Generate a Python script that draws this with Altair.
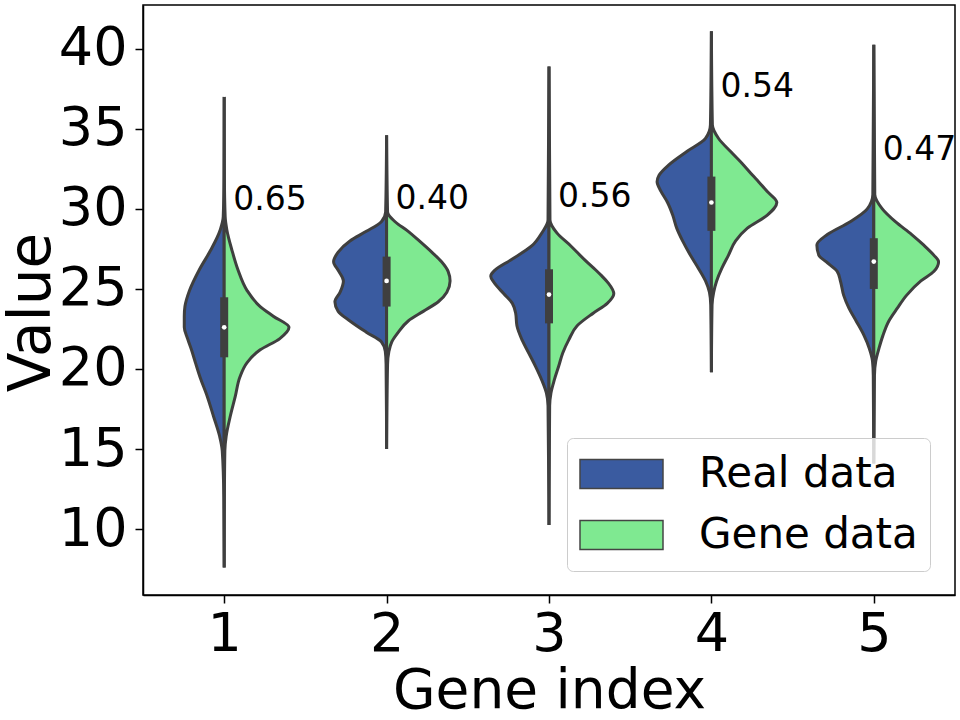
import altair as alt
import pandas as pd

# ---------------- data ----------------
GENES = [1, 2, 3, 4, 5]
SIDES = ["Real data", "Gene data"]
COLORS = ["#3a5ba0", "#7fe991"]

# violin profiles: value levels and relative half-widths (1 = widest half)
LEVELS_1 = [37.0, 32.0, 29.5, 28.7, 27.4, 26.2, 24.9, 23.9, 23.3, 22.6, 21.9, 21.2, 20.4, 19.5, 18.3, 17.0, 15.8, 14.9, 12.0, 7.6]
REAL_1 = [0, 0.003, 0.015, 0.06, 0.21, 0.38, 0.53, 0.60, 0.61, 0.61, 0.56, 0.50, 0.44, 0.37, 0.26, 0.16, 0.07, 0.03, 0.006, 0]
GENE_1 = [0, 0.003, 0.015, 0.04, 0.12, 0.21, 0.35, 0.55, 0.75, 0.99, 0.85, 0.55, 0.35, 0.24, 0.17, 0.09, 0.03, 0.01, 0.003, 0]

LEVELS_2 = [34.6, 29.8, 29.2, 28.6, 28.0, 27.3, 26.7, 26.1, 25.5, 24.8, 24.2, 23.6, 23.0, 22.3, 21.7, 21.1, 20.3, 15.0]
REAL_2 = [0, 0.015, 0.08, 0.31, 0.56, 0.74, 0.81, 0.73, 0.66, 0.71, 0.79, 0.74, 0.56, 0.31, 0.08, 0.02, 0.008, 0]
GENE_2 = [0, 0.015, 0.13, 0.33, 0.50, 0.69, 0.84, 0.94, 0.97, 0.92, 0.79, 0.56, 0.33, 0.18, 0.08, 0.035, 0.015, 0]

LEVELS_3 = [38.9, 29.3, 28.5, 27.7, 26.8, 26.2, 25.8, 25.4, 24.7, 24.1, 23.5, 22.7, 21.8, 21.0, 20.2, 19.3, 18.5, 17.7, 10.25]
REAL_3 = [0, 0.015, 0.11, 0.26, 0.59, 0.82, 0.89, 0.84, 0.69, 0.56, 0.51, 0.49, 0.41, 0.31, 0.21, 0.11, 0.04, 0.015, 0]
GENE_3 = [0, 0.015, 0.12, 0.33, 0.55, 0.71, 0.81, 0.90, 0.99, 0.89, 0.68, 0.43, 0.30, 0.21, 0.15, 0.08, 0.03, 0.01, 0]

LEVELS_4 = [41.1, 35.25, 34.4, 33.6, 32.75, 32.1, 31.7, 31.1, 30.4, 29.6, 28.8, 28.0, 27.1, 26.3, 25.5, 24.8, 24.0, 19.8]
REAL_4 = [0, 0.015, 0.09, 0.37, 0.65, 0.80, 0.83, 0.77, 0.67, 0.59, 0.53, 0.44, 0.32, 0.20, 0.09, 0.03, 0.01, 0]
GENE_4 = [0, 0.015, 0.11, 0.29, 0.49, 0.63, 0.72, 0.85, 1.0, 0.85, 0.55, 0.37, 0.26, 0.16, 0.08, 0.035, 0.01, 0]

LEVELS_5 = [40.25, 30.9, 30.0, 29.2, 28.4, 27.75, 27.1, 26.7, 26.1, 25.5, 24.6, 23.8, 23.0, 22.1, 21.3, 20.5, 19.6, 14.1]
REAL_5 = [0, 0.015, 0.10, 0.36, 0.71, 0.87, 0.84, 0.73, 0.56, 0.51, 0.46, 0.38, 0.27, 0.15, 0.07, 0.02, 0.008, 0]
GENE_5 = [0, 0.015, 0.13, 0.33, 0.58, 0.76, 0.92, 0.99, 0.92, 0.72, 0.50, 0.36, 0.23, 0.14, 0.08, 0.03, 0.01, 0]

# inner box statistics of the real data
Q1 = [20.73, 23.9, 22.85, 28.63, 25.0]
Q3 = [24.48, 27.02, 26.23, 32.02, 28.17]
MEDIAN = [22.6, 25.5, 24.65, 30.4, 26.71]

# annotation scores
SCORE_TEXT = ["0.65", "0.40", "0.56", "0.54", "0.47"]
SCORE_Y = [30.56, 30.6, 30.75, 37.6, 33.7]

# ---------------- build tables ----------------
HALF = 0.403  # widest half-violin, in category units
profiles = {
    1: (LEVELS_1, REAL_1, GENE_1),
    2: (LEVELS_2, REAL_2, GENE_2),
    3: (LEVELS_3, REAL_3, GENE_3),
    4: (LEVELS_4, REAL_4, GENE_4),
    5: (LEVELS_5, REAL_5, GENE_5),
}
rows = []
for g in GENES:
    levels, real, gene = profiles[g]
    for v, w in zip(levels, real):
        rows.append({"gene": g, "side": SIDES[0], "v": v, "x_lo": g - w * HALF, "x_hi": g})
    for v, w in zip(levels, gene):
        rows.append({"gene": g, "side": SIDES[1], "v": v, "x_lo": g, "x_hi": g + w * HALF})
violins = pd.DataFrame(rows)

boxes = pd.DataFrame({"gene": GENES, "q1": Q1, "q3": Q3, "median": MEDIAN})
scores = pd.DataFrame({"gene": GENES, "y": SCORE_Y, "text": SCORE_TEXT})

FONT = "DejaVu Sans"
OUTLINE = "#3f3f3f"
xscale = alt.Scale(domain=[0.5, 5.5], nice=False, zero=False)
yscale = alt.Scale(domain=[5.88, 42.74], nice=False, zero=False)

x_axis = alt.Axis(values=GENES, format="d", title="Gene index", grid=False,
                  labelFontSize=54, labelFont=FONT, labelColor="black", labelPadding=4,
                  titleFontSize=55, titleFont=FONT, titleColor="black", titleFontWeight="normal",
                  titleBaseline="alphabetic", titleY=112,
                  tickSize=8, tickWidth=1.5, tickColor="black",
                  domainColor="black", domainWidth=1.5, labelFlush=False)
y_axis = alt.Axis(values=[10, 15, 20, 25, 30, 35, 40], title="Value", grid=False,
                  labelFontSize=54, labelFont=FONT, labelColor="black", labelPadding=8,
                  titleFontSize=58, titleFont=FONT, titleColor="black", titleFontWeight="normal",
                  titleBaseline="alphabetic", titleX=-94, titleY=307, titleAngle=270,
                  tickSize=8, tickWidth=1.5, tickColor="black",
                  domainColor="black", domainWidth=1.5, labelFlush=False)

violin_layer = alt.Chart(violins).mark_area(
    orient="horizontal", interpolate="monotone", stroke=OUTLINE, strokeWidth=3,
    fillOpacity=1, opacity=1
).encode(
    y=alt.Y("v:Q", scale=yscale, axis=y_axis),
    x=alt.X("x_lo:Q", scale=xscale, axis=x_axis),
    x2="x_hi:Q",
    color=alt.Color("side:N", scale=alt.Scale(domain=SIDES, range=COLORS),
                    legend=alt.Legend(orient="none", legendX=424, legendY=433, title=None,
                                      symbolType="M-1,-0.35H1V0.35H-1Z", symbolSize=6889,
                                      symbolStrokeColor="#444444", symbolStrokeWidth=1.5,
                                      symbolOpacity=1, labelLimit=500,
                                      labelFontSize=42, labelFont=FONT, labelColor="black",
                                      labelOffset=35, clipHeight=48, rowPadding=13,
                                      padding=12, cornerRadius=6, strokeColor="#cccccc",
                                      fillColor="rgba(255,255,255,0.8)")),
    detail="gene:N",
)

box_layer = alt.Chart(boxes).mark_rule(color=OUTLINE, strokeWidth=8).encode(
    x=alt.X("gene:Q", scale=xscale, axis=x_axis),
    y=alt.Y("q1:Q", scale=yscale, axis=y_axis),
    y2="q3:Q",
)

median_layer = alt.Chart(boxes).mark_point(filled=True, color="white", size=22, opacity=1).encode(
    x=alt.X("gene:Q", scale=xscale, axis=x_axis),
    y=alt.Y("median:Q", scale=yscale, axis=y_axis),
)

text_layer = alt.Chart(scores).mark_text(
    align="left", baseline="middle", dx=9, fontSize=33, font=FONT, color="black"
).encode(
    x=alt.X("gene:Q", scale=xscale, axis=x_axis),
    y=alt.Y("y:Q", scale=yscale, axis=y_axis),
    text="text:N",
)

chart = alt.layer(violin_layer, box_layer, median_layer, text_layer).properties(
    width=812, height=590,
    background="white",
    autosize=alt.AutoSizeParams(type="none"),
    padding={"left": 143, "top": 5, "right": 5, "bottom": 125},
).configure_view(stroke="black", strokeWidth=1.5)

chart.save("out.html", embed_options={"renderer": "svg", "actions": False})
